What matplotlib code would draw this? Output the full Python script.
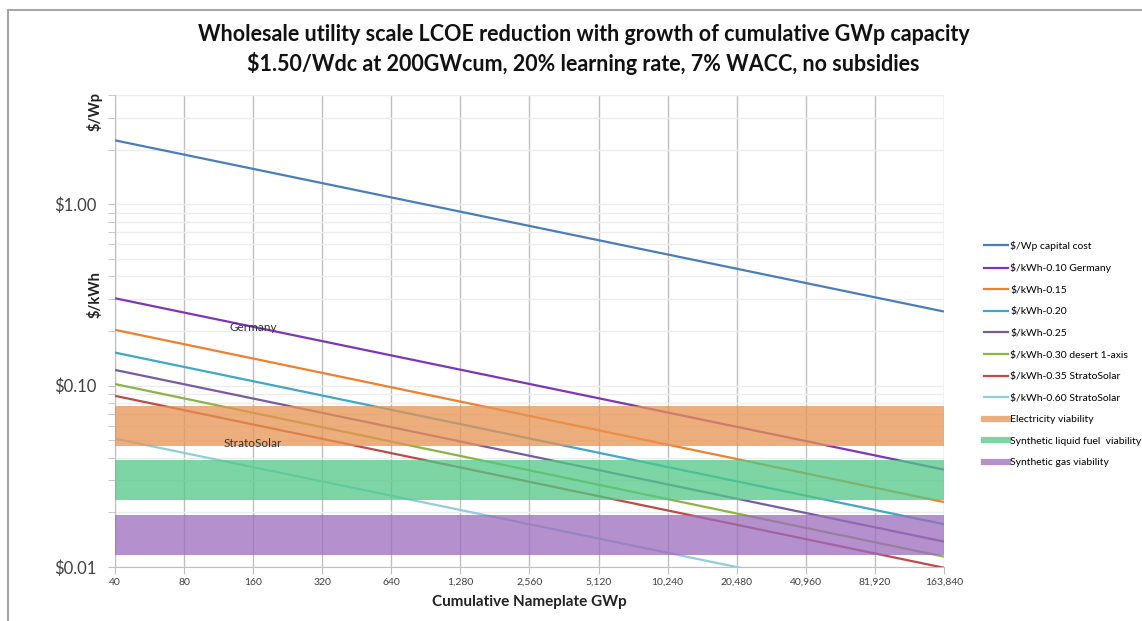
import numpy as np
import matplotlib
matplotlib.use("Agg")
import matplotlib.pyplot as plt
from matplotlib.lines import Line2D
from matplotlib.ticker import FixedLocator, LogLocator, NullFormatter

plt.rcParams['font.family'] = ['Lato', 'DejaVu Sans']

# cumulative nameplate capacity (GWp), ends of each straight log-log line
capacity = [40, 163840]
x_ticks = [40, 80, 160, 320, 640, 1280, 2560, 5120, 10240, 20480, 40960, 81920, 163840]

series_names = ['$/Wp capital cost', '$/kWh-0.10 Germany', '$/kWh-0.15', '$/kWh-0.20',
                '$/kWh-0.25', '$/kWh-0.30 desert 1-axis', '$/kWh-0.35 StratoSolar',
                '$/kWh-0.60 StratoSolar']
start_values = [2.25, 0.303, 0.203, 0.152, 0.122, 0.102, 0.0878, 0.0510]
end_values = [0.256, 0.0344, 0.0228, 0.0172, 0.0138, 0.0114, 0.0099, 0.0058]
series_colors = ['#4A7EBB', '#7F35B8', '#F0802D', '#3FA8C4', '#7A5BA0',
                 '#8DB347', '#BE4B48', '#92CDDC']

band_names = ['Electricity viability', 'Synthetic liquid fuel  viability',
              'Synthetic gas viability']
band_low = [0.0464, 0.0233, 0.0117]
band_high = [0.077, 0.0387, 0.0194]
band_colors = ['#E89352', '#52C887', '#9B6CBC']

fig = plt.figure(figsize=(11.42, 6.21), dpi=100)
ax = fig.add_axes([0.1007, 0.087, 0.7259, 0.760])

for name, s, e, c in zip(series_names, start_values, end_values, series_colors):
    ax.plot(capacity, [s, e], color=c, lw=1.6, label=name, zorder=3, solid_capstyle='butt')

for name, lo, hi, c in zip(band_names, band_low, band_high, band_colors):
    ax.fill_between(capacity, [lo, lo], [hi, hi], color=c, alpha=0.75, lw=0, zorder=4)

ax.set_xscale('log', base=2)
ax.set_yscale('log')
ax.set_xlim(40, 163840)
ax.set_ylim(0.01, 4)

ax.xaxis.set_major_locator(FixedLocator(x_ticks))
ax.xaxis.set_minor_locator(FixedLocator([]))
ax.set_xticklabels([f'{v:,}' for v in x_ticks])
ax.set_yticks([0.01, 0.1, 1.0])
ax.set_yticklabels(['$0.01', '$0.10', '$1.00'])
ax.yaxis.set_minor_locator(LogLocator(base=10, subs=np.arange(2, 10)))
ax.yaxis.set_minor_formatter(NullFormatter())

ax.grid(axis='x', which='major', color='#BFBFBF', lw=1.0, zorder=1)
ax.grid(axis='y', which='both', color='#EDEDED', lw=1.0, zorder=1)

for side in ['top', 'right']:
    ax.spines[side].set_visible(False)
for side in ['left', 'bottom']:
    ax.spines[side].set_color('#BFBFBF')

ax.tick_params(axis='x', which='major', direction='out', length=5, color='#BFBFBF',
               labelsize=7.5, labelcolor='#404040', pad=3)
ax.tick_params(axis='y', which='both', direction='out', length=5, color='#BFBFBF',
               labelcolor='#404040')
ax.tick_params(axis='y', which='major', labelsize=12, pad=8)

ax.set_xlabel('Cumulative Nameplate GWp', fontsize=11, fontweight='bold', color='#222222',
              labelpad=6)

fig.text(0.083, 0.82, '$/Wp', rotation=90, ha='center', va='center', fontsize=10.5,
         fontweight='bold', color='#222222')
fig.text(0.083, 0.525, '$/kWh', rotation=90, ha='center', va='center', fontsize=10.5,
         fontweight='bold', color='#222222')

fig.text(0.511, 0.944, 'Wholesale utility scale LCOE reduction with growth of cumulative GWp capacity',
         ha='center', va='center', fontsize=15.5, fontweight='bold', color='#111111')
fig.text(0.511, 0.898, '$1.50/Wdc at 200GWcum, 20% learning rate, 7% WACC, no subsidies',
         ha='center', va='center', fontsize=15.5, fontweight='bold', color='#111111')

ax.text(160, 0.208, 'Germany', ha='center', va='center', fontsize=8.5, color='#333333', zorder=6)
ax.text(160, 0.048, 'StratoSolar', ha='center', va='center', fontsize=8.5, color='#333333', zorder=6)

handles = [Line2D([], [], color=c, lw=1.6) for c in series_colors]
handles += [Line2D([], [], color=c, lw=4.5, alpha=0.75) for c in band_colors]
labels = series_names + band_names
fig.legend(handles, labels, loc='upper left', bbox_to_anchor=(0.862, 0.612), frameon=False,
           fontsize=7.5, labelspacing=1.18, handlelength=2.3, handletextpad=0.2,
           borderaxespad=0, borderpad=0)

# chart frame
fig.add_artist(Line2D([0.007, 0.007], [0.0, 0.984], color='#A6A6A6', lw=1.5,
                      transform=fig.transFigure))
fig.add_artist(Line2D([0.007, 1.0], [0.984, 0.984], color='#A6A6A6', lw=1.5,
                      transform=fig.transFigure))

fig.savefig('out.png', dpi=100)
